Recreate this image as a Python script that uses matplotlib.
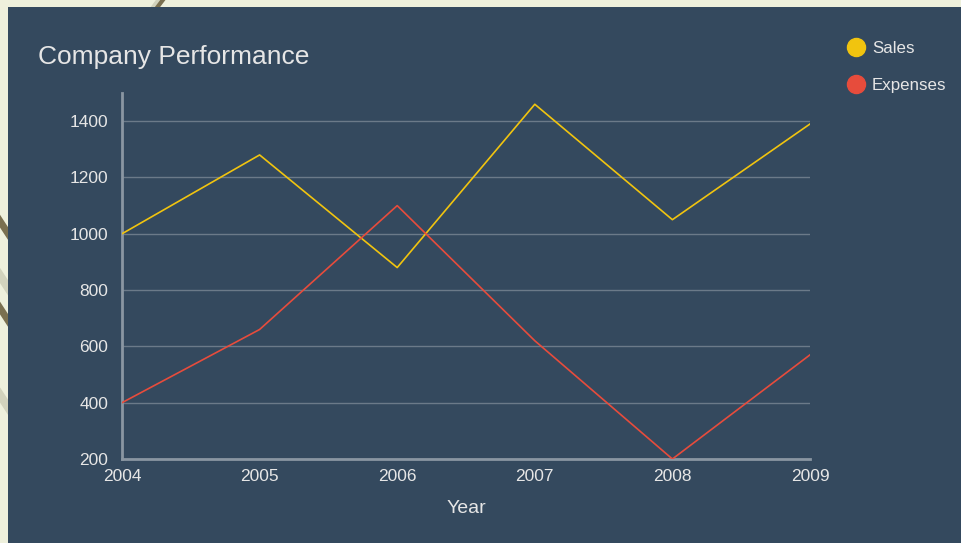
import matplotlib.pyplot as plt
from matplotlib.patches import Rectangle
from matplotlib.lines import Line2D

plt.rcParams["font.family"] = ["Liberation Sans", "DejaVu Sans"]

# Data
years = [2004, 2005, 2006, 2007, 2008, 2009]
sales = [1000, 1280, 880, 1460, 1050, 1390]
expenses = [400, 660, 1100, 620, 200, 570]
y_ticks = [200, 400, 600, 800, 1000, 1200, 1400]

panel = "#34495e"
text_col = "#e6e6e6"
sales_col = "#f1c40f"
exp_col = "#e74c3c"

fig = plt.figure(figsize=(9.61, 5.43), dpi=100)
fig.patch.set_facecolor("#eef0dc")

# decorative strokes on the page behind the panel
deco = [
    ((0.150, 0.175), (0.96, 1.02), "#d2d3bd", 5),
    ((0.163, 0.178), (0.985, 1.02), "#7a7050", 3),
    ((-0.01, 0.012), (0.62, 0.56), "#7a7050", 5),
    ((-0.01, 0.012), (0.46, 0.40), "#7a7050", 5),
    ((-0.01, 0.012), (0.52, 0.46), "#d2d3bd", 6),
    ((-0.01, 0.012), (0.30, 0.24), "#d2d3bd", 6),
]
for xs, ys, c, w in deco:
    fig.add_artist(Line2D(xs, ys, transform=fig.transFigure, color=c, lw=w, zorder=0))

fig.add_artist(Rectangle((8 / 961, 0), 1 - 8 / 961, 1 - 7 / 543,
                         transform=fig.transFigure, facecolor=panel,
                         edgecolor="none", zorder=1))

ax = fig.add_axes([122 / 961, 1 - 459 / 543, (810 - 122) / 961, (459 - 93) / 543])
ax.set_facecolor("none")
ax.set_zorder(2)

ax.plot(years, sales, color=sales_col, lw=1.2, zorder=3)
ax.plot(years, expenses, color=exp_col, lw=1.2, zorder=3)

ax.set_xlim(2004, 2009)
ax.set_ylim(200, 1500)
ax.set_xticks(years)
ax.set_yticks(y_ticks)
ax.grid(axis="y", color="#6b7a89", lw=1)
ax.grid(axis="x", visible=False)
ax.set_axisbelow(True)

for s in ["top", "right"]:
    ax.spines[s].set_visible(False)
for s in ["left", "bottom"]:
    ax.spines[s].set_color("#8a96a2")
    ax.spines[s].set_linewidth(2)

ax.tick_params(colors=text_col, labelsize=12.5, length=0)
ax.tick_params(axis="x", pad=7)
ax.tick_params(axis="y", pad=10)
ax.set_xlabel("Year", color=text_col, fontsize=14, labelpad=12)

fig.text(38 / 961, 1 - 57 / 543, "Company Performance", color=text_col,
         fontsize=19, va="center", ha="left")

handles = [
    Line2D([], [], marker="o", ls="none", color=sales_col, markersize=13),
    Line2D([], [], marker="o", ls="none", color=exp_col, markersize=13),
]
leg = fig.legend(handles, ["Sales", "Expenses"], loc="upper left",
                 bbox_to_anchor=(832 / 961, 1 - 26 / 543), frameon=False,
                 handlelength=1, handletextpad=0.45, labelspacing=1.3,
                 fontsize=12.2)
for t in leg.get_texts():
    t.set_color(text_col)

fig.savefig("out.png", dpi=100, facecolor=fig.get_facecolor())
